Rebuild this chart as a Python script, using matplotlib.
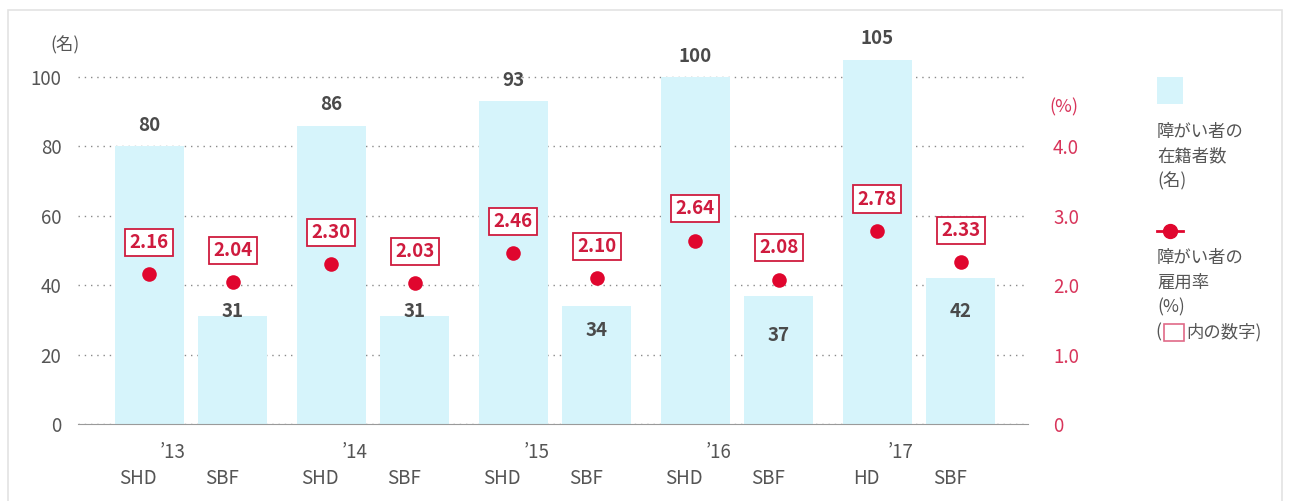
import matplotlib.pyplot as plt
from matplotlib.patches import Rectangle
from matplotlib.lines import Line2D
import numpy as np

plt.rcParams['font.family'] = ['Noto Sans CJK JP', 'DejaVu Sans']

years = ["’13", "’14", "’15", "’16", "’17"]
left_names = ["SHD", "SHD", "SHD", "SHD", "HD"]
right_names = ["SBF", "SBF", "SBF", "SBF", "SBF"]
left_counts = [80, 86, 93, 100, 105]
right_counts = [31, 31, 34, 37, 42]
left_rates = [2.16, 2.30, 2.46, 2.64, 2.78]
right_rates = [2.04, 2.03, 2.10, 2.08, 2.33]

# layout only: where the SBF count labels sit (left-axis units)
right_label_y = [32.5, 32.5, 27, 25.5, 32.5]

BAR = "#d6f4fb"
RED = "#e0062e"
BOXRED = "#cf1b3e"
TICKRED = "#d8345a"
GRAY = "#555555"
DARK = "#4a4a4a"

W, H = 1293, 501
fig = plt.figure(figsize=(W / 100, H / 100), dpi=100)

ax = fig.add_axes([78 / W, 1 - 424 / H, (1028 - 78) / W, 374.8 / H])
ax2 = ax.twinx()

x = np.arange(len(years))
off, bw = 0.23, 0.38
xl, xr = x - off, x + off

ax.bar(xl, left_counts, width=bw, color=BAR, zorder=2)
ax.bar(xr, right_counts, width=bw, color=BAR, zorder=2)

for xi, v in zip(xl, left_counts):
    ax.annotate(str(v), (xi, v), xytext=(0, 15), textcoords="offset points",
                ha="center", va="center", fontsize=13.5, fontweight="bold", color=DARK)
for xi, v, ly in zip(xr, right_counts, right_label_y):
    ax.text(xi, ly, str(v), ha="center", va="center", fontsize=13.5,
            fontweight="bold", color=DARK, zorder=3)

ax.set_xlim(-0.621, 4.599)
ax.set_ylim(0, 108)
ax.set_yticks([0, 20, 40, 60, 80, 100])
ax.yaxis.grid(True, linestyle=(0, (1, 3.5)), color="#8a8a8a", linewidth=1)
ax.set_axisbelow(True)
ax.tick_params(axis="y", length=0, labelsize=13.5, labelcolor=GRAY, pad=12)
ax.tick_params(axis="x", length=0, labelbottom=False)
for s in ["top", "right", "left"]:
    ax.spines[s].set_visible(False)
ax.spines["bottom"].set_color("#9a9a9a")

ax2.set_ylim(0, 5.4)
ax2.set_yticks([0, 1, 2, 3, 4])
ax2.set_yticklabels(["0", "1.0", "2.0", "3.0", "4.0"])
ax2.tick_params(axis="y", length=0, labelsize=13.5, labelcolor=TICKRED, pad=18)
for s in ax2.spines.values():
    s.set_visible(False)

ax2.scatter(xl, left_rates, s=110, color=RED, zorder=4, linewidths=0)
ax2.scatter(xr, right_rates, s=110, color=RED, zorder=4, linewidths=0)
for xs, rs in [(xl, left_rates), (xr, right_rates)]:
    for xi, r in zip(xs, rs):
        ax2.annotate(f"{r:.2f}", (xi, r), xytext=(0, 23), textcoords="offset points",
                     ha="center", va="center", fontsize=13.5, fontweight="bold", color=BOXRED,
                     bbox=dict(boxstyle="square,pad=0.22", fc="white", ec=BOXRED, lw=1.3),
                     zorder=5)

# category labels under the axis
for xi, yr in zip(x, years):
    ax.text(xi - 0.1, -0.075, yr, transform=ax.get_xaxis_transform(),
            ha="center", va="center", fontsize=13.5, color=GRAY)
for xs, names in [(xl, left_names), (xr, right_names)]:
    for xi, n in zip(xs, names):
        ax.text(xi - 0.06, -0.145, n, transform=ax.get_xaxis_transform(),
                ha="center", va="center", fontsize=13.5, color=GRAY)

fig.text(50 / W, 1 - 45 / H, "(名)", ha="left", va="center", fontsize=12.5, color=GRAY)
fig.text(1049 / W, 1 - 107 / H, "(%)", ha="left", va="center", fontsize=13, color=TICKRED)

# legend
fig.patches.append(Rectangle((1157 / W, 1 - 104 / H), 26 / W, 27 / H,
                             transform=fig.transFigure, fc=BAR, ec="none"))
for i, t in enumerate(["障がい者の", "在籍者数", "(名)"]):
    fig.text(1157 / W, 1 - (132 + 24.5 * i) / H, t, ha="left", va="center",
             fontsize=12.5, color=GRAY)
fig.lines.append(Line2D([1157 / W, 1183 / W], [1 - 231 / H] * 2, transform=fig.transFigure,
                        color=RED, lw=2))
fig.lines.append(Line2D([1170 / W], [1 - 231 / H], transform=fig.transFigure,
                        color=RED, marker="o", markersize=10, lw=0))
for i, t in enumerate(["障がい者の", "雇用率", "(%)"]):
    fig.text(1157 / W, 1 - (258 + 24.5 * i) / H, t, ha="left", va="center",
             fontsize=12.5, color=GRAY)
fig.text(1155 / W, 1 - 332 / H, "(", ha="left", va="center", fontsize=12.5, color=GRAY)
fig.patches.append(Rectangle((1164 / W, 1 - 341 / H), 20 / W, 17 / H,
                             transform=fig.transFigure, fc="none", ec="#e06a88", lw=1.2))
fig.text(1186 / W, 1 - 332 / H, "内の数字)", ha="left", va="center", fontsize=12.5, color=GRAY)

# faint frame around the chart
fig.patches.append(Rectangle((8 / W, -0.05), 1274 / W, 1 - 10 / H + 0.05,
                             transform=fig.transFigure, fc="none", ec="#e3e3e3", lw=1.2))

fig.savefig("out.png", dpi=100)
